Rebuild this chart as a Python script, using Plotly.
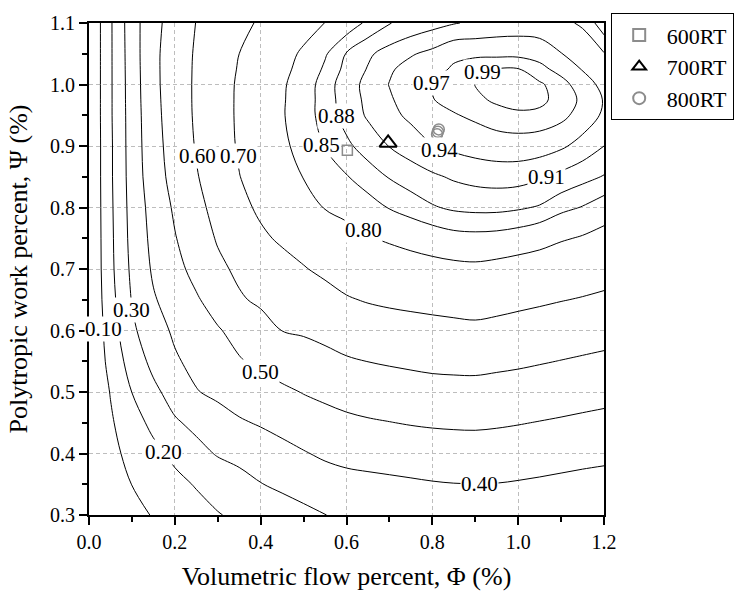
import plotly.graph_objects as go

# Grid of the efficiency map
phi = [0.0, 0.05, 0.1, 0.15, 0.2, 0.25, 0.3, 0.35, 0.4, 0.45, 0.5, 0.55, 0.6,
       0.65, 0.7, 0.75, 0.8, 0.85, 0.9, 0.95, 1.0, 1.05, 1.1, 1.15, 1.2]
psi = [0.3, 0.35, 0.4, 0.45, 0.5, 0.55, 0.6, 0.65, 0.7, 0.75, 0.8, 0.85, 0.9,
       0.95, 0.975, 1.0, 1.025, 1.05, 1.1]

eff_030 = [.02, .045, .075, .105, .135, .165, .195, .217, .237, .258, .278, .299, .313, .318, .324, .33, .337, .34, .343, .34, .336, .329, .322, .315, .308]
eff_035 = [.03, .065, .101, .138, .174, .207, .236, .265, .297, .317, .337, .357, .371, .377, .382, .388, .394, .398, .399, .398, .393, .387, .38, .373, .367]
eff_040 = [.03, .076, .125, .174, .222, .27, .308, .329, .351, .372, .394, .414, .426, .433, .44, .446, .452, .455, .457, .454, .449, .442, .435, .428, .422]
eff_045 = [.02, .088, .158, .225, .288, .324, .357, .39, .408, .429, .449, .467, .481, .491, .498, .505, .51, .513, .514, .51, .504, .497, .49, .482, .475]
eff_050 = [.01, .104, .201, .277, .341, .395, .421, .442, .463, .483, .504, .52, .536, .546, .553, .56, .567, .569, .57, .565, .559, .552, .544, .537, .529]
eff_055 = [0, .132, .242, .327, .388, .427, .46, .493, .519, .544, .559, .573, .591, .601, .609, .616, .622, .625, .626, .62, .614, .606, .598, .59, .582]
eff_060 = [0, .15, .282, .359, .415, .454, .492, .53, .564, .601, .61, .626, .642, .652, .662, .668, .673, .678, .682, .675, .667, .658, .65, .642, .634]
eff_065 = [0, .166, .305, .391, .443, .49, .54, .59, .615, .633, .652, .67, .693, .706, .714, .72, .726, .731, .735, .729, .72, .712, .703, .695, .686]
eff_070 = [0, .176, .32, .413, .472, .528, .581, .617, .643, .669, .695, .717, .738, .751, .763, .771, .779, .785, .788, .782, .773, .764, .754, .744, .733]
eff_075 = [0, .179, .33, .426, .495, .553, .608, .646, .685, .713, .733, .754, .775, .796, .808, .82, .83, .838, .84, .838, .832, .822, .806, .795, .778]
eff_080 = [0, .182, .336, .437, .513, .575, .629, .676, .715, .745, .776, .803, .82, .836, .852, .865, .877, .885, .888, .888, .884, .877, .86, .848, .832]
eff_085 = [0, .185, .342, .455, .533, .594, .646, .698, .734, .769, .802, .825, .848, .866, .882, .894, .905, .914, .92, .923, .922, .914, .902, .89, .878]
eff_090 = [0, .185, .345, .463, .543, .606, .659, .709, .748, .787, .822, .852, .874, .893, .911, .925, .939, .947, .953, .957, .958, .955, .945, .929, .91]
eff_095 = [0, .188, .346, .47, .549, .612, .663, .712, .753, .795, .832, .865, .891, .914, .932, .946, .957, .968, .975, .983, .987, .986, .978, .958, .935]
eff_0975 = [0, .188, .348, .473, .551, .613, .663, .712, .752, .794, .831, .866, .894, .917, .936, .955, .969, .978, .986, .993, .996, .994, .984, .965, .938]
eff_100 = [0, .188, .349, .476, .552, .613, .663, .711, .751, .792, .83, .866, .896, .919, .941, .956, .971, .979, .9905, .995, .996, .993, .98, .956, .93]
eff_1025 = [0, .188, .351, .477, .552, .612, .659, .706, .744, .783, .821, .856, .889, .912, .936, .951, .962, .973, .987, .991, .991, .9775, .961, .938, .92]
eff_105 = [0, .188, .353, .477, .551, .61, .655, .70, .737, .774, .811, .846, .882, .905, .922, .937, .948, .965, .964, .964, .964, .96, .941, .924, .912]
eff_110 = [0, .188, .357, .47, .543, .602, .639, .676, .711, .741, .771, .801, .83, .857, .879, .889, .899, .908, .915, .92, .922, .92, .915, .907, .86]

eff = [eff_030, eff_035, eff_040, eff_045, eff_050, eff_055, eff_060, eff_065,
       eff_070, eff_075, eff_080, eff_085, eff_090, eff_095, eff_0975, eff_100,
       eff_1025, eff_105, eff_110]

levels = [0.10, 0.20, 0.30, 0.40, 0.50, 0.60, 0.70, 0.80, 0.85, 0.88, 0.91, 0.94, 0.97, 0.99]
label_phi = [0.033, 0.173, 0.100, 0.910, 0.399, 0.252, 0.348, 0.639, 0.542, 0.577, 1.066, 0.817, 0.798, 0.918]
label_psi = [0.602, 0.403, 0.634, 0.350, 0.532, 0.884, 0.884, 0.763, 0.902, 0.948, 0.849, 0.894, 1.002, 1.020]

rt600_phi = [0.602]
rt600_psi = [0.893]
rt700_phi = [0.697]
rt700_psi = [0.905]
rt800_phi = [0.811, 0.813, 0.815]
rt800_psi = [0.919, 0.923, 0.927]

FONT = "Liberation Serif"

fig = go.Figure()
for lv in levels:
    fig.add_trace(go.Contour(
        x=phi, y=psi, z=eff, autocontour=False,
        contours=dict(start=lv, end=lv, size=0.01, coloring="none", showlabels=False),
        line=dict(color="black", width=1, smoothing=1.0),
        showscale=False, showlegend=False, hoverinfo="skip"))

fig.add_trace(go.Scatter(x=rt600_phi, y=rt600_psi, mode="markers", name="600RT",
                         marker=dict(symbol="square-open", size=10, color="#8c8c8c",
                                     line=dict(width=1.5, color="#8c8c8c"))))
fig.add_trace(go.Scatter(x=rt700_phi, y=rt700_psi, mode="markers", name="700RT",
                         marker=dict(symbol="triangle-up-open", size=15, color="black",
                                     line=dict(width=2, color="black"))))
fig.add_trace(go.Scatter(x=rt800_phi, y=rt800_psi, mode="markers", name="800RT",
                         marker=dict(symbol="circle-open", size=11, color="#8c8c8c",
                                     line=dict(width=1.5, color="#8c8c8c"))))

for lv, xv, yv in zip(levels, label_phi, label_psi):
    fig.add_annotation(x=xv, y=yv, text=f"{lv:.2f}", showarrow=False,
                       bgcolor="white", borderpad=0,
                       font=dict(family=FONT, size=21, color="black"))

axis_common = dict(
    ticks="outside", ticklen=8, tickwidth=1.5, tickcolor="black",
    showline=True, linecolor="black", linewidth=2, mirror=True,
    showgrid=True, gridcolor="#bdbdbd", gridwidth=1, griddash="4px,3px",
    zeroline=False, tickfont=dict(family=FONT, size=20, color="black"),
)

fig.update_xaxes(range=[0, 1.2], tick0=0, dtick=0.2, tickformat=".1f",
                 minor=dict(dtick=0.1, ticks="outside", ticklen=5, tickwidth=1.5,
                            tickcolor="black", showgrid=False),
                 title=dict(text="Volumetric flow percent, Φ (%)",
                            font=dict(family=FONT, size=26, color="black")),
                 **axis_common)
fig.update_yaxes(range=[0.3, 1.1], tick0=0, dtick=0.1, tickformat=".1f",
                 minor=dict(dtick=0.05, ticks="outside", ticklen=5, tickwidth=1.5,
                            tickcolor="black", showgrid=False),
                 title=dict(text="Polytropic work percent, Ψ (%)",
                            font=dict(family=FONT, size=26, color="black")),
                 **axis_common)

fig.update_layout(
    width=749, height=598,
    margin=dict(l=89, r=145, t=19, b=82),
    plot_bgcolor="white", paper_bgcolor="white",
    font=dict(family=FONT, color="black"),
    legend=dict(x=1.013, y=1.02, xanchor="left", yanchor="top",
                bordercolor="black", borderwidth=1, bgcolor="white",
                font=dict(family=FONT, size=22, color="black"),
                itemsizing="constant", itemwidth=45, tracegroupgap=0),
)

fig.write_html("out.html")
